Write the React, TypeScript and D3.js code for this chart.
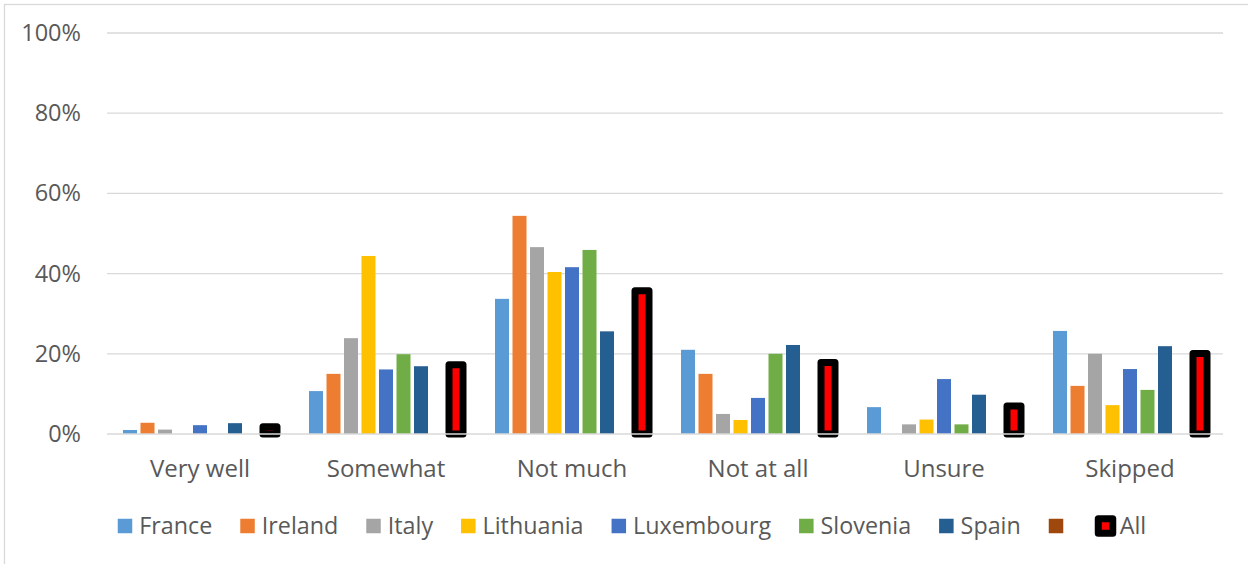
import React, { useEffect, useRef } from "react";
import * as d3 from "d3";

const categories = ["Very well", "Somewhat", "Not much", "Not at all", "Unsure", "Skipped"];
const seriesNames = ["France", "Ireland", "Italy", "Lithuania", "Luxembourg", "Slovenia", "Spain", "", "All"];
const france = [1.0, 10.7, 33.7, 21.0, 6.7, 25.7];
const ireland = [2.8, 15.0, 54.4, 15.0, 0, 12.0];
const italy = [1.1, 23.9, 46.6, 5.0, 2.4, 20.0];
const lithuania = [0, 44.4, 40.4, 3.5, 3.6, 7.2];
const luxembourg = [2.2, 16.1, 41.6, 9.0, 13.7, 16.2];
const slovenia = [0, 19.9, 45.9, 20.0, 2.4, 11.0];
const spain = [2.7, 16.9, 25.6, 22.2, 9.8, 21.9];
const blank: (number | null)[] = [null, null, null, null, null, null];
const all = [1.8, 17.3, 35.7, 17.8, 7.0, 20.1];
const yTicks = [0, 20, 40, 60, 80, 100];

const seriesValues = [france, ireland, italy, lithuania, luxembourg, slovenia, spain, blank, all];
const colors = ["#5B9BD5", "#ED7D31", "#A5A5A5", "#FFC000", "#4472C4", "#70AD47", "#255E91", "#9E480E", "#FF0000"];

const W = 1248;
const H = 564;
const FONT = "'Open Sans', sans-serif";
const TEXT = "#595959";
const GRID = "#D9D9D9";

export default function App() {
  const ref = useRef<SVGSVGElement | null>(null);

  useEffect(() => {
    const svg = d3.select(ref.current);
    svg.selectAll("*").remove();

    const left = 107, right = 1223, top = 33, bottom = 434;
    const x0 = d3.scaleBand<string>().domain(categories).range([left, right]);
    const gw = x0.bandwidth();
    const pad = 14.25;
    const x1 = d3.scaleBand<string>().domain(seriesNames.map((_, i) => String(i)))
      .range([pad, gw - pad]).paddingInner(0.2).paddingOuter(0.1);
    const y = d3.scaleLinear().domain([0, 100]).range([bottom, top]);

    // chart border
    svg.append("rect").attr("x", 4.5).attr("y", 4.5).attr("width", W + 10).attr("height", H + 10)
      .attr("fill", "white").attr("stroke", GRID).attr("stroke-width", 1.3);

    // gridlines
    svg.append("g").selectAll("line").data(yTicks.filter(t => t > 0)).join("line")
      .attr("x1", left).attr("x2", right)
      .attr("y1", d => y(d)).attr("y2", d => y(d))
      .attr("stroke", GRID).attr("stroke-width", 1.3);

    // tick labels
    svg.append("g").selectAll("text").data(yTicks).join("text")
      .attr("x", 81).attr("y", d => y(d) + 8)
      .attr("text-anchor", "end")
      .attr("font-family", FONT).attr("font-size", 23.5).attr("fill", TEXT)
      .text(d => d + "%");

    // bars
    seriesValues.forEach((vals, si) => {
      const g = svg.append("g");
      const isAll = seriesNames[si] === "All";
      g.selectAll("rect").data(vals.map((v, ci) => ({ v, c: categories[ci] })).filter(d => d.v != null && (d.v as number) > 0))
        .join("rect")
        .attr("x", d => (x0(d.c) as number) + (x1(String(si)) as number))
        .attr("width", x1.bandwidth())
        .attr("y", d => y(d.v as number))
        .attr("height", d => bottom - y(d.v as number))
        .attr("fill", colors[si])
        .attr("stroke", isAll ? "#000" : "none")
        .attr("stroke-width", isAll ? 7 : 0)
        .attr("stroke-linejoin", "round");
    });

    // axis line
    svg.append("line").attr("x1", left).attr("x2", right).attr("y1", bottom).attr("y2", bottom)
      .attr("stroke", GRID).attr("stroke-width", 1.3);

    // category labels
    svg.append("g").selectAll("text").data(categories).join("text")
      .attr("x", d => (x0(d) as number) + gw / 2).attr("y", 477)
      .attr("text-anchor", "middle")
      .attr("font-family", FONT).attr("font-size", 24).attr("fill", TEXT)
      .text(d => d);

    // legend
    const lg = svg.append("g");
    const sq = 14.5, gap = 7, spacing = 28, cy = 526;
    let cx = 0;
    seriesNames.forEach((name, i) => {
      const t = lg.append("text").attr("font-family", FONT).attr("font-size", 23.3).attr("fill", TEXT)
        .attr("x", cx + sq + gap).attr("y", cy + 8.3).text(name);
      const w = name ? (t.node() as SVGTextElement).getComputedTextLength() : 0;
      const isAll = name === "All";
      lg.append("rect").attr("x", cx).attr("y", cy - sq / 2).attr("width", sq).attr("height", sq)
        .attr("fill", colors[i])
        .attr("stroke", isAll ? "#000" : "none").attr("stroke-width", isAll ? 7 : 0)
        .attr("stroke-linejoin", "round");
      cx += sq + gap + w + spacing;
    });
    const total = cx - spacing;
    const startX = 632 - total / 2;
    lg.attr("transform", `translate(${startX},0)`);
  }, []);

  return (
    <svg ref={ref} width={W} height={H}
      style={{ position: "absolute", left: 0, top: 0, background: "white" }} />
  );
}
